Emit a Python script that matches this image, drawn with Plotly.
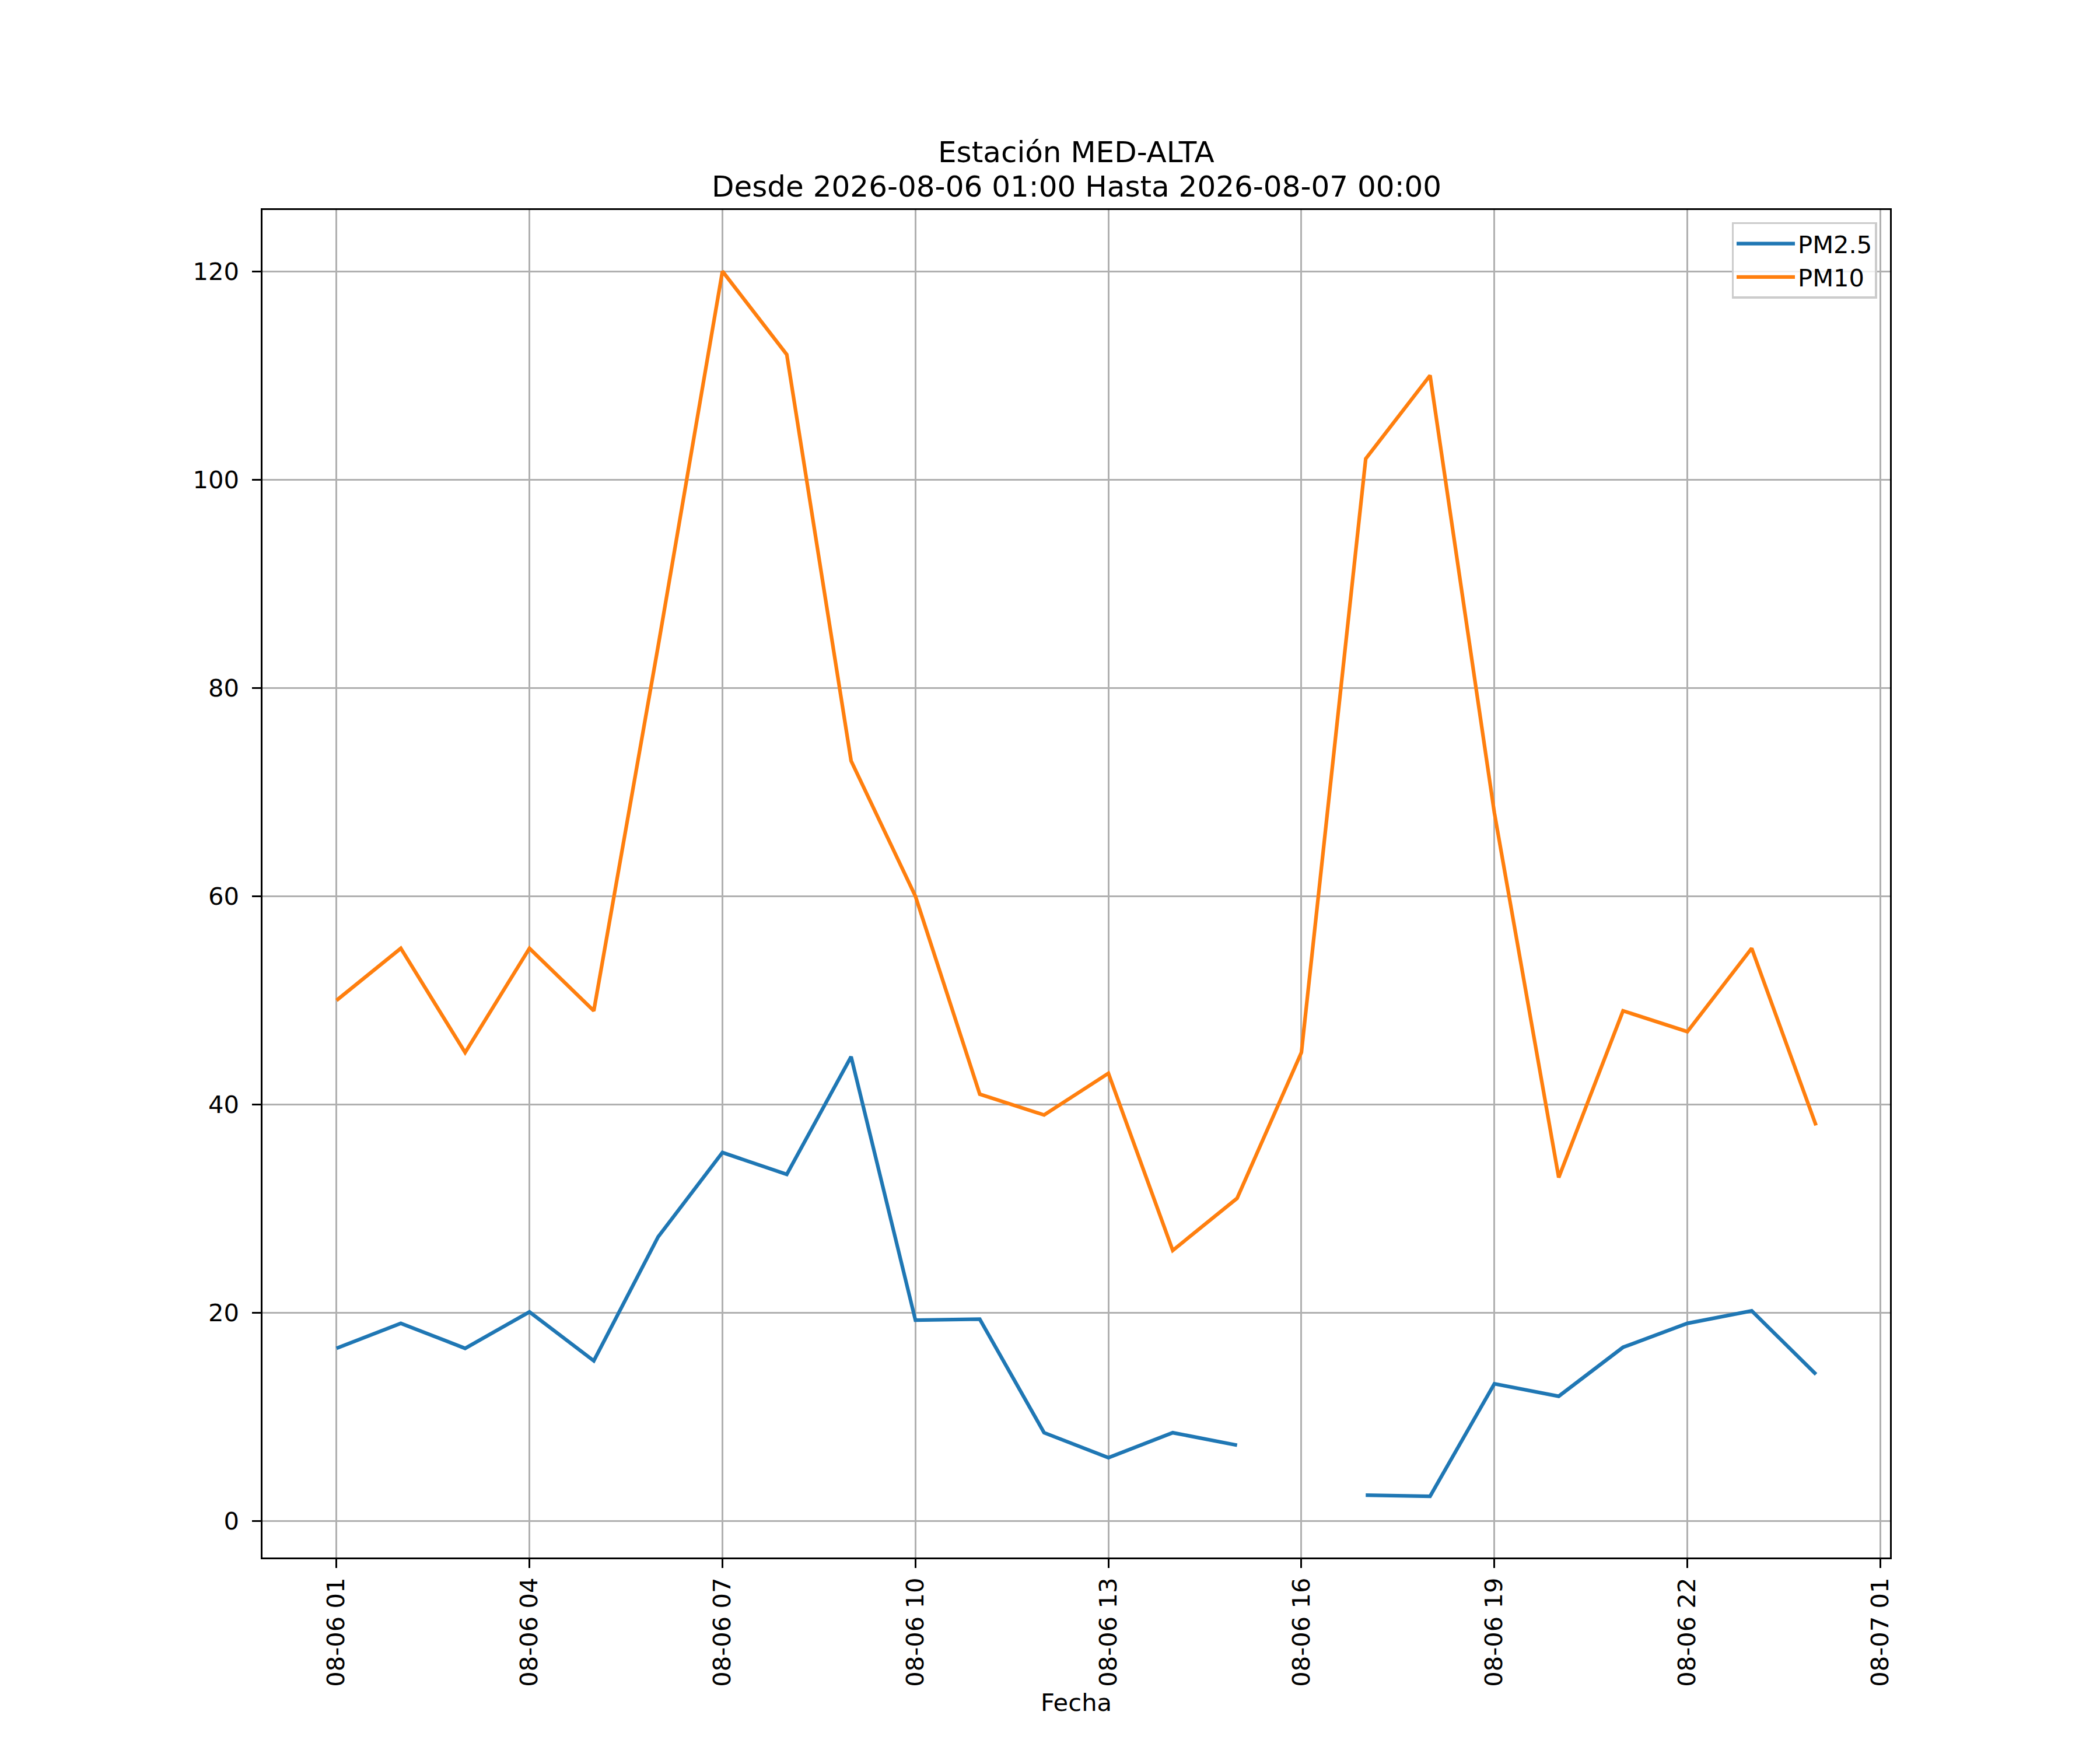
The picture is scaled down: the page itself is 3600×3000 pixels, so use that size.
import pandas as pd
import plotly.graph_objects as go

# Hourly readings for station MED-ALTA
fechas = pd.date_range("2026-08-06 01:00", "2026-08-07 00:00", freq="h")

pm25 = [16.6, 19.0, 16.6, 20.1, 15.4, 27.3, 35.4, 33.3, 44.6, 19.3, 19.4, 8.5,
        6.1, 8.5, 7.3, None, 2.5, 2.4, 13.2, 12.0, 16.7, 19.0, 20.2, 14.1]
pm10 = [50, 55, 45, 55, 49, 84, 120, 112, 73, 60, 41, 39,
        43, 26, 31, 45, 102, 110, 68, 33, 49, 47, 55, 38]

titulo_1 = "Estación MED-ALTA"
titulo_2 = "Desde 2026-08-06 01:00 Hasta 2026-08-07 00:00"

FONT = "DejaVu Sans"
PT = 300 / 72  # px per point at 300 dpi

fig = go.Figure()
fig.add_trace(go.Scatter(x=fechas, y=pm25, mode="lines", name="PM2.5",
                         line=dict(color="#1f77b4", width=1.5 * PT)))
fig.add_trace(go.Scatter(x=fechas, y=pm10, mode="lines", name="PM10",
                         line=dict(color="#ff7f0e", width=1.5 * PT)))

# matplotlib-like 5% margins on the data range
t0, t1 = fechas[0], fechas[-1]
span = t1 - t0
ymin = min(v for v in pm25 + pm10 if v is not None)
ymax = max(v for v in pm25 + pm10 if v is not None)
ypad = (ymax - ymin) * 0.05

axis_style = dict(
    showline=True, linecolor="black", linewidth=0.8 * PT, mirror=True,
    ticks="outside", ticklen=3.5 * PT, tickwidth=0.8 * PT, tickcolor="black",
    showgrid=True, gridcolor="#b0b0b0", gridwidth=0.8 * PT,
    zeroline=False, tickfont=dict(size=10 * PT, color="black", family=FONT),
)

# two-line title, placed like matplotlib's (centred over the axes)
title_font = dict(size=12 * PT, family=FONT, color="black")
annotations = [
    dict(text=titulo_1, x=0.5, y=1, xref="paper", yref="paper",
         xanchor="center", yanchor="middle", yshift=99,
         showarrow=False, font=title_font),
    dict(text=titulo_2, x=0.5, y=1, xref="paper", yref="paper",
         xanchor="center", yanchor="middle", yshift=40,
         showarrow=False, font=title_font),
]

fig.update_layout(
    width=3600, height=3000,
    paper_bgcolor="white", plot_bgcolor="white",
    font=dict(family=FONT, color="black", size=10 * PT),
    margin=dict(l=442, r=368, t=352, b=338),
    annotations=annotations,
    legend=dict(x=0.992, y=0.991, xanchor="right", yanchor="top",
                bgcolor="rgba(255,255,255,0.8)", bordercolor="#cccccc",
                borderwidth=0.8 * PT, itemwidth=100, tracegroupgap=6,
                font=dict(size=10 * PT, family=FONT)),
    showlegend=True,
)

fig.update_xaxes(
    **axis_style,
    range=[t0 - span * 0.05, t1 + span * 0.05],
    tick0="2026-08-06 01:00", dtick=3 * 3600 * 1000,
    tickformat="%m-%d %H", tickangle=-90, ticklabelstandoff=0,
    title=dict(text="Fecha", standoff=14,
               font=dict(size=10 * PT, family=FONT, color="black")),
)
fig.update_yaxes(
    **axis_style,
    range=[ymin - ypad, ymax + ypad],
    tick0=0, dtick=20, ticklabelstandoff=14,
)

fig.write_html("out.html")
